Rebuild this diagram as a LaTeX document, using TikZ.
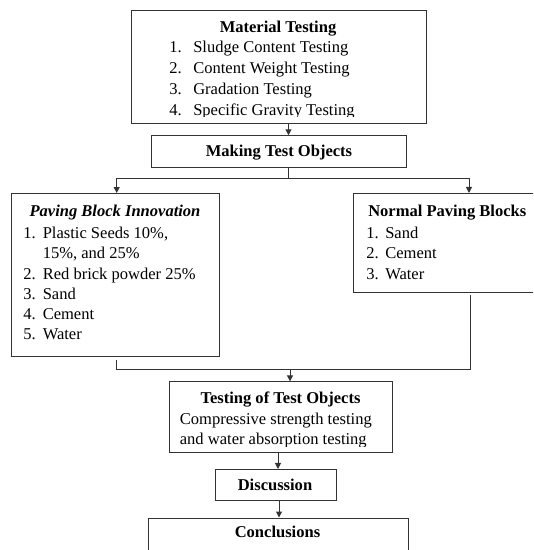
\documentclass[tikz,border=0pt]{standalone}
\usepackage{fontspec}
\setmainfont{Liberation Serif}
\usetikzlibrary{arrows.meta}
\begin{document}
\begin{tikzpicture}[x=0.75pt,y=-0.75pt,
  font=\fontsize{12.4}{15}\selectfont,
  box/.style={draw=black!80, line width=0.75pt, inner sep=0pt},
  txt/.style={inner sep=0pt, anchor=base west},
  ttl/.style={inner sep=0pt, anchor=base, font=\fontsize{12.4}{15}\selectfont\bfseries},
  link/.style={draw=black!80, line width=0.75pt},
  arr/.style={link, -{Triangle[length=4.5pt,width=4.5pt]}}]
\useasboundingbox (0,0) rectangle (533,550);
\clip (0,0) rectangle (533,550);

% boxes
\node[box, minimum width=221.25pt, minimum height=84.75pt] (mat) at (278.5,67) {};
\node[box, minimum width=191.6pt, minimum height=24pt] (mak) at (279.25,151.75) {};
\node[box, minimum width=156pt, minimum height=122.6pt] (pav) at (115.3,275.25) {};
\node[box, minimum width=139.7pt, minimum height=73.9pt] (nor) at (446.85,242.75) {};
\node[box, minimum width=167pt, minimum height=53.1pt] (tst) at (280.7,417.2) {};
\node[box, minimum width=90.75pt, minimum height=22.9pt] (dis) at (275.5,484.75) {};
\node[box, minimum width=195pt, minimum height=39pt] (con) at (278,544) {};

% Material Testing text (last line clipped as in the source)
\begin{scope}
\clip (131,10.5) rectangle (426,116.5);
\node[ttl] (matT) at (278,32.3) {Material Testing};
\node[txt] (m1n) at (169,52.6) {1.};
\node[txt] (m1) at (193,52.6) {Sludge Content Testing};
\node[txt] (m2n) at (169,73) {2.};
\node[txt] (m2) at (193,73) {Content Weight Testing};
\node[txt] (m3n) at (169,94.7) {3.};
\node[txt] (m3) at (193,94.7) {Gradation Testing};
\node[txt] (m4n) at (169,115.8) {4.};
\node[txt] (m4) at (193,115.8) {Specific Gravity Testing};
\end{scope}

\node[ttl] (makT) at (279,156) {Making Test Objects};

% Paving Block Innovation
\node[ttl, font=\fontsize{12.4}{15}\selectfont\bfseries\itshape] (pavT) at (115,216) {Paving Block Innovation};
\node[txt] (p1n) at (23,238) {1.};
\node[txt] (p1) at (42.5,238) {Plastic Seeds 10\%,};
\node[txt] (p1b) at (42.5,258.5) {15\%, and 25\%};
\node[txt] (p2n) at (23,279.5) {2.};
\node[txt] (p2) at (42.5,279.5) {Red brick powder 25\%};
\node[txt] (p3n) at (23,299.5) {3.};
\node[txt] (p3) at (42.5,299.5) {Sand};
\node[txt] (p4n) at (23,319.5) {4.};
\node[txt] (p4) at (42.5,319.5) {Cement};
\node[txt] (p5n) at (23,339) {5.};
\node[txt] (p5) at (42.5,339) {Water};

% Normal Paving Blocks
\node[ttl, anchor=base west] (norT) at (368,216) {Normal Paving Blocks};
\node[txt] (n1n) at (366,238) {1.};
\node[txt] (n1) at (385,238) {Sand};
\node[txt] (n2n) at (366,258.5) {2.};
\node[txt] (n2) at (385,258.5) {Cement};
\node[txt] (n3n) at (366,279.5) {3.};
\node[txt] (n3) at (385,279.5) {Water};

% Testing of Test Objects (last line clipped)
\begin{scope}
\clip (169.4,381.8) rectangle (392,446);
\node[ttl] (tstT) at (280.5,403.5) {Testing of Test Objects};
\node[txt] (t1) at (179.6,424.6) {Compressive strength testing};
\node[txt] (t2) at (179.6,444.5) {and water absorption testing};
\end{scope}

\node[ttl] (disT) at (275,490) {Discussion};
\node[ttl] (conT) at (277.5,537.5) {Conclusions};

% connectors
\coordinate (a1) at (288.5,0);
\coordinate (j1) at (288.5,178);
\coordinate (pl) at (116.7,178);
\coordinate (pr) at (469,178);
\coordinate (ql) at (116.7,369);
\coordinate (qr) at (470,369);
\coordinate (j2) at (290,369);
\coordinate (a3) at (278,0);
\coordinate (a4) at (279,0);

\draw[arr] (mat.south -| a1) -- (mak.north -| a1);
\draw[link] (mak.south -| j1) -- (j1);
\draw[arr] (j1) -| (pav.north -| pl);
\draw[arr] (j1) -| (nor.north -| pr);
\draw[link] ([yshift=-2.2pt]pav.south -| ql) -- (ql) -- (qr) -- ([yshift=-2.2pt]nor.south -| qr);
\draw[arr] (j2) -- (tst.north -| j2);
\draw[arr] (tst.south -| a3) -- (dis.north -| a3);
\draw[arr] (dis.south -| a4) -- (con.north -| a4);
\end{tikzpicture}
\end{document}
